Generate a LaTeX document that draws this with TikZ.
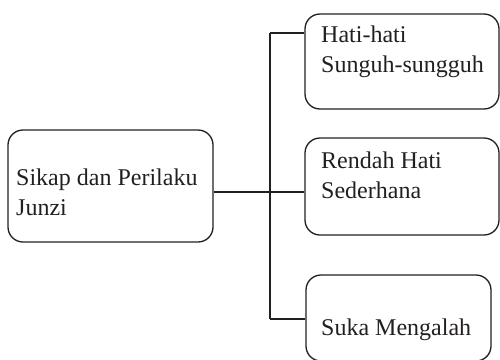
\documentclass[tikz,border=0pt]{standalone}
\usepackage{fontspec}
\setmainfont{Liberation Serif}
\definecolor{ink}{HTML}{231F20}
\begin{document}
\begin{tikzpicture}[x=1pt,y=-1pt,
  box/.style={draw=ink, line width=1.3pt, rounded corners=15pt, inner sep=0pt},
  lbl/.style={anchor=base west, inner sep=0pt, align=left, text=ink,
    font=\fontsize{24}{30}\selectfont},
  wire/.style={draw=ink, line width=1.3pt}]
\useasboundingbox (0,0) rectangle (500,359);
\clip (0,0) rectangle (500,359);
% boxes
\node[box, minimum width=205pt, minimum height=112pt] (L) at (110.5,186) {};
\node[box, minimum width=194pt, minimum height=95pt] (T) at (402,61.5) {};
\node[box, minimum width=194pt, minimum height=97pt] (M) at (402,186.5) {};
\node[box, minimum width=185pt, minimum height=86pt] (B) at (398.5,318) {};
% texts (base anchor = baseline of last line)
\node[lbl] (tL) at (16,215) {Sikap dan Perilaku\\Junzi};
\node[lbl] (tT) at (321,72.5) {Hati-hati\\Sunguh-sungguh};
\node[lbl] (tM) at (321,198.5) {Rendah Hati\\Sederhana};
\node[lbl] (tB) at (321,335) {Suka Mengalah};
% connectors
\coordinate (jt) at (270,33);
\coordinate (jb) at (270,319);
\draw[wire] (L.east |- 0,192) -- (M.west |- 0,192);
\draw[wire] (jt) -- (jb);
\draw[wire] (jt) -- (T.west |- jt);
\draw[wire] (jb) -- (B.west |- jb);
\end{tikzpicture}
\end{document}
